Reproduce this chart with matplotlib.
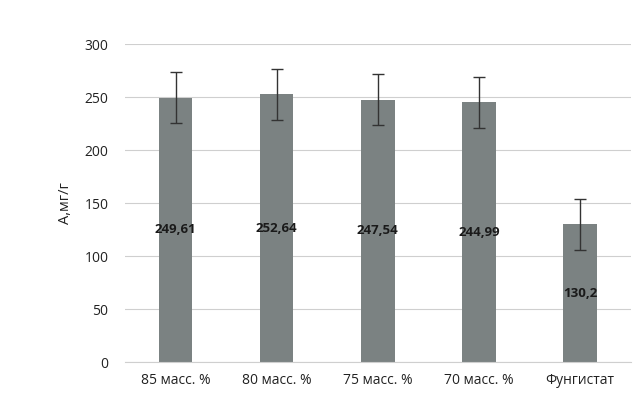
import matplotlib
matplotlib.use("Agg")
import matplotlib.pyplot as plt
import numpy as np

plt.rcParams['font.family'] = ['Open Sans', 'DejaVu Sans']

categories = ['85 масс. %', '80 масс. %', '75 масс. %', '70 масс. %', 'Фунгистат']
values = [249.61, 252.64, 247.54, 244.99, 130.2]
errors = [24, 24, 24, 24, 24]
labels = ['249,61', '252,64', '247,54', '244,99', '130,2']

fig = plt.figure(figsize=(6.35, 4.01), dpi=100)
ax = fig.add_axes([0.197, 0.097, 0.796, 0.793])

x = np.arange(len(categories))
ax.bar(x, values, width=0.33, color='#7b8282', zorder=2,
       yerr=errors, error_kw=dict(ecolor='#333333', elinewidth=1, capsize=4, capthick=1))

for xi, v, lab in zip(x, values, labels):
    ax.text(xi, v / 2, lab, ha='center', va='center', fontsize=9.5,
            fontweight='bold', color='#1a1a1a', zorder=3)

ax.set_xlim(-0.5, len(categories) - 0.5)
ax.set_ylim(0, 300)
ax.set_yticks(np.arange(0, 301, 50))
ax.set_xticks(x)
ax.set_xticklabels(categories)
ax.grid(axis='y', color='#cfcfcf', linewidth=0.8, zorder=0)
for s in ['top', 'right', 'left']:
    ax.spines[s].set_visible(False)
ax.spines['bottom'].set_color('#cfcfcf')
ax.tick_params(axis='x', length=0, labelsize=10, colors='#222222', pad=8)
ax.tick_params(axis='y', length=0, labelsize=10, colors='#222222', pad=12)
ax.set_ylabel('А,мг/г', fontsize=10.5, color='#222222', labelpad=8)

fig.savefig('out.png', dpi=100)
